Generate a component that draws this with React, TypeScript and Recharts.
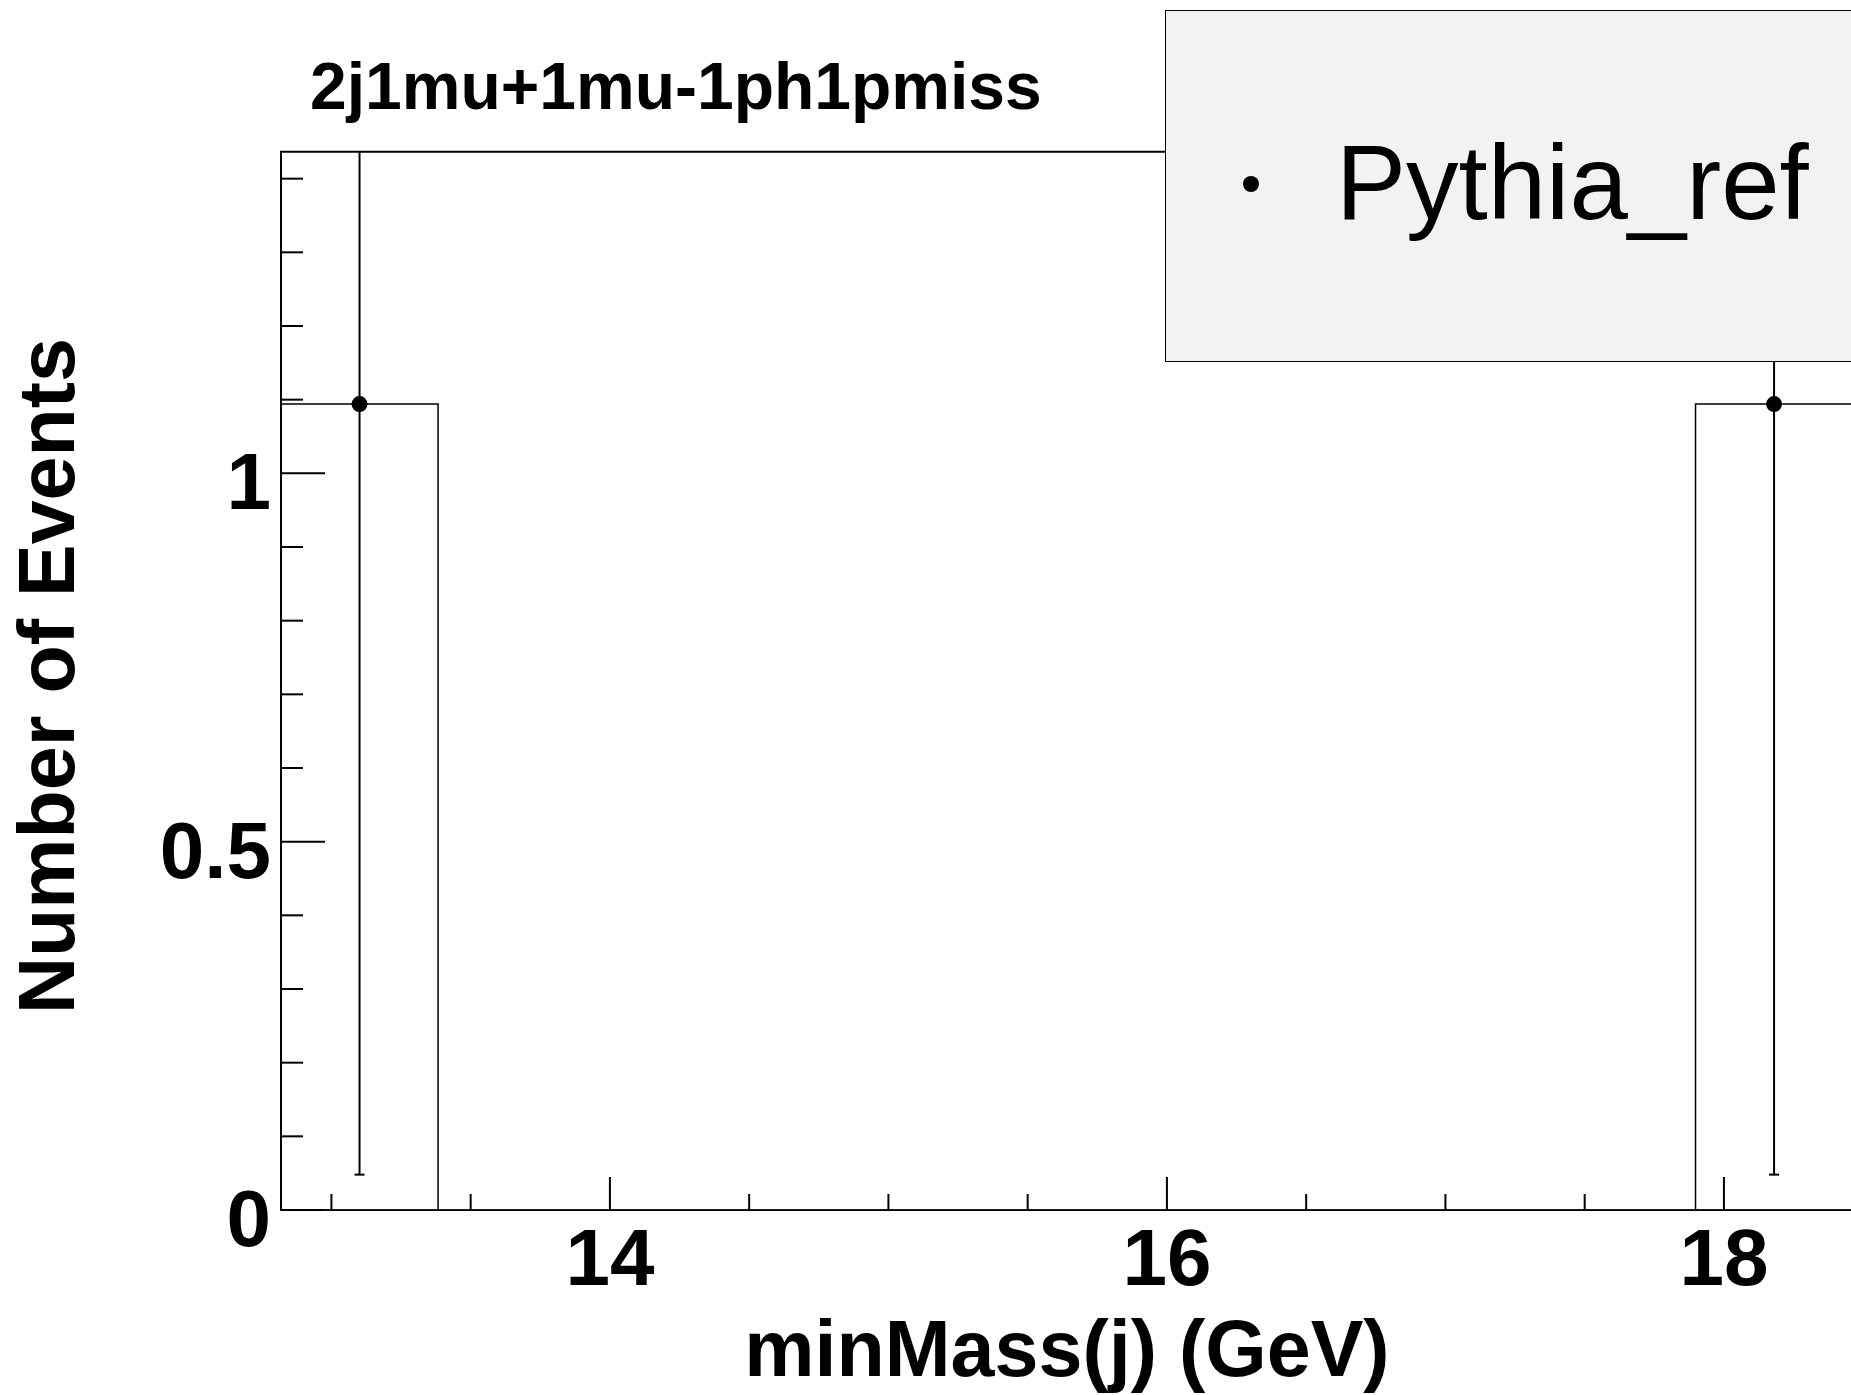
import React from 'react';
import {
  ComposedChart,
  Line,
  Scatter,
  ErrorBar,
  XAxis,
  YAxis,
  ReferenceArea,
  Legend,
  Customized,
} from 'recharts';

const FONT = '"Liberation Sans", Arial, Helvetica, sans-serif';

const TITLE = '2j1mu+1mu-1ph1pmiss';
const X_TITLE = 'minMass(j) (GeV)';
const Y_TITLE = 'Number of Events';
const SERIES_NAME = 'Pythia_ref';

// histogram bin edges (10 bins) and contents
const X_EDGES = [12.819, 13.383, 13.948, 14.512, 15.076, 15.641, 16.205, 16.769, 17.333, 17.898, 18.462];
const COUNTS = [1.094, 0, 0, 0, 0, 0, 0, 0, 0, 1.094];
const ERRORS = [1.046, 0, 0, 0, 0, 0, 0, 0, 0, 1.046];

const X_DOMAIN: [number, number] = [12.819, 18.462];
const Y_DOMAIN: [number, number] = [0, 1.4366];

const X_TICKS = [13, 13.5, 14, 14.5, 15, 15.5, 16, 16.5, 17, 17.5, 18];
const X_LABELS = [14, 16, 18];
const Y_TICKS = [0, 0.1, 0.2, 0.3, 0.4, 0.5, 0.6, 0.7, 0.8, 0.9, 1, 1.1, 1.2, 1.3, 1.4];
const Y_LABELS = [0, 0.5, 1];

const stepData = X_EDGES.map((x, i) => ({ x, y: COUNTS[Math.min(i, COUNTS.length - 1)] }));
const zeroData = X_EDGES.map((x) => ({ x, y: 0 }));
const pointData = COUNTS.map((c, i) => ({
  x: (X_EDGES[i] + X_EDGES[i + 1]) / 2,
  y: c,
  err: ERRORS[i],
})).filter((p) => p.y > 0);

const near = (a: number, b: number) => Math.abs(a - b) < 1e-6;

const XTick = (props: any) => {
  const { x, y, payload } = props;
  const v = payload.value;
  const major = X_LABELS.some((m) => near(m, v));
  return (
    <g>
      <line x1={x} x2={x} y1={y} y2={y - (major ? 33 : 16)} stroke="#000" strokeWidth={2} />
      {major && (
        <text x={x} y={y + 75} textAnchor="middle" fontFamily={FONT} fontWeight="bold" fontSize={80} fill="#000">
          {String(v)}
        </text>
      )}
    </g>
  );
};

const YTick = (props: any) => {
  const { x, y, payload } = props;
  const v = payload.value;
  const major = Y_LABELS.some((m) => near(m, v));
  return (
    <g>
      <line x1={x} x2={x + (major ? 44 : 22)} y1={y} y2={y} stroke="#000" strokeWidth={2} />
      {major && (
        <text x={x - 10} y={y + 36} textAnchor="end" fontFamily={FONT} fontWeight="bold" fontSize={80} fill="#000">
          {String(v)}
        </text>
      )}
    </g>
  );
};

const Titles = () => (
  <g>
    <defs>
      <clipPath id="plotClip">
        <rect x={270} y={151} width={1640} height={1070} />
      </clipPath>
    </defs>
    <text x={310} y={109} fontFamily={FONT} fontWeight="bold" fontSize={66} fill="#000">
      {TITLE}
    </text>
    <text x={1067} y={1376} textAnchor="middle" fontFamily={FONT} fontWeight="bold" fontSize={79} fill="#000">
      {X_TITLE}
    </text>
    <text
      x={74}
      y={676}
      textAnchor="middle"
      transform="rotate(-90 74 676)"
      fontFamily={FONT}
      fontWeight="bold"
      fontSize={79}
      fill="#000"
    >
      {Y_TITLE}
    </text>
  </g>
);

const LegendBox = () => (
  <div
    style={{
      width: 760,
      height: 352,
      boxSizing: 'border-box',
      border: '1.5px solid #000',
      background: '#f2f2f2',
      position: 'relative',
    }}
  >
    <svg width={760} height={352} style={{ position: 'absolute', left: -1.5, top: -1.5 }}>
      <circle cx={86} cy={174} r={8} fill="#000" />
      <text x={171} y={209} fontFamily={FONT} fontSize={105} fill="#000">
        {SERIES_NAME}
      </text>
    </svg>
  </div>
);

export default function App() {
  return (
    <div
      style={{
        position: 'absolute',
        left: 0,
        top: 0,
        width: 1851,
        height: 1395,
        overflow: 'hidden',
        background: '#fff',
      }}
    >
      <ComposedChart
        width={1900}
        height={1395}
        margin={{ top: 151.7, right: 47.4, left: 0, bottom: 0 }}
      >
        <Customized component={Titles} />
        <XAxis
          type="number"
          dataKey="x"
          domain={X_DOMAIN}
          allowDataOverflow
          ticks={X_TICKS}
          interval={0}
          tickSize={0}
          tickMargin={0}
          tickLine={false}
          tick={<XTick />}
          height={185}
          axisLine={false}
        />
        <YAxis
          type="number"
          domain={Y_DOMAIN}
          allowDataOverflow
          ticks={Y_TICKS}
          interval={0}
          tickSize={0}
          tickMargin={0}
          tickLine={false}
          tick={<YTick />}
          width={281}
          axisLine={{ stroke: '#000', strokeWidth: 2 }}
        />
        <ReferenceArea
          x1={X_DOMAIN[0]}
          x2={X_DOMAIN[1]}
          y1={Y_DOMAIN[0]}
          y2={Y_DOMAIN[1]}
          fill="none"
          fillOpacity={0}
          stroke="#000"
          strokeWidth={2}
        />
        <Line
          data={stepData}
          dataKey="y"
          type="stepAfter"
          stroke="#000"
          strokeWidth={1.5}
          dot={false}
          activeDot={false}
          isAnimationActive={false}
          legendType="none"
        />
        <Line
          data={zeroData}
          dataKey="y"
          type="linear"
          stroke="#b00000"
          strokeWidth={1}
          dot={false}
          activeDot={false}
          isAnimationActive={false}
          legendType="none"
        />
        <Scatter
          data={pointData}
          dataKey="y"
          name={SERIES_NAME}
          isAnimationActive={false}
          shape={(p: any) => <circle cx={p.cx} cy={p.cy} r={8} fill="#000" />}
        >
          <ErrorBar
            dataKey="err"
            direction="y"
            width={5}
            stroke="#000"
            strokeWidth={2}
            clipPath="url(#plotClip)"
            isAnimationActive={false}
          />
        </Scatter>
        <Legend
          layout="horizontal"
          verticalAlign="middle"
          align="center"
          wrapperStyle={{ position: 'absolute', left: 1165, top: 10, width: 760, height: 352, margin: 0, padding: 0 }}
          content={() => <LegendBox />}
        />
      </ComposedChart>
    </div>
  );
}
